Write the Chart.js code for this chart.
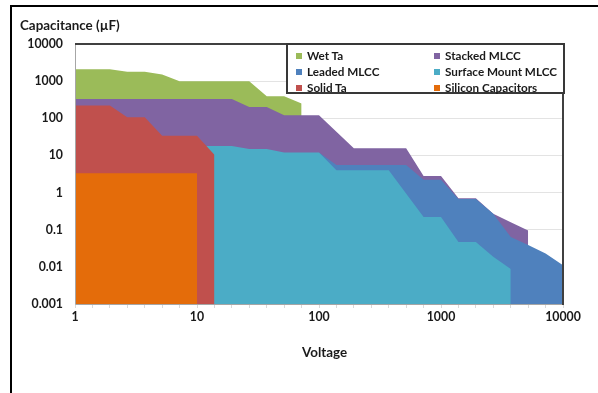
<!DOCTYPE html>
<html>
<head>
<meta charset="utf-8">
<script src="https://cdn.jsdelivr.net/npm/chart.js"></script>
<style>
html,body{margin:0;padding:0;background:#fff;width:598px;height:393px;overflow:hidden;font-family:Lato,"Open Sans",sans-serif;}
#wrap{position:relative;width:598px;height:393px;}
#c{position:absolute;left:0;top:0;}
#frame{position:absolute;left:10px;top:5px;width:620px;height:420px;border-top:2px solid #000;border-left:2px solid #000;pointer-events:none;}
.t{position:absolute;font-weight:700;font-size:13.4px;color:#1a1a1a;white-space:nowrap;line-height:16px;}
#legend{position:absolute;left:286px;top:43px;width:279px;height:51px;box-sizing:border-box;border:2px solid #383838;background:#fff;}
.li{position:absolute;font-weight:700;font-size:11.7px;color:#1a1a1a;white-space:nowrap;line-height:12px;}
.li i{display:inline-block;width:6px;height:6px;margin-right:5px;vertical-align:1px;}
</style>
</head>
<body>
<div id="wrap">
  <canvas id="c" width="598" height="393"></canvas>
  <div id="frame"></div>
  <div class="t" style="left:20px;top:17px;">Capacitance (µF)</div>
  <div class="t" style="left:302px;top:344px;">Voltage</div>
  <div id="legend"></div>
</div>
<script>
// Category positions of the voltage axis (29 steps over 1 V .. 10 kV)
const voltages = [1, 1.39, 1.93, 2.68, 3.73, 5.18, 7.2, 10, 13.9, 19.3, 26.8, 37.3, 51.8, 72,
                  100, 139, 193, 268, 373, 518, 720, 1000, 1390, 1930, 2680, 3730, 5180, 7200, 10000];
const xLabelValues = [1, 10, 100, 1000, 10000];
const xTickLabels = ['1', '10', '100', '1000', '10000'];
const yTickValues = [0.001, 0.01, 0.1, 1, 10, 100, 1000, 10000];
const yTickLabels = ['0.001', '0.01', '0.1', '1', '10', '100', '1000', '10000'];

const seriesNames = ['Wet Ta', 'Stacked MLCC', 'Leaded MLCC', 'Surface Mount MLCC', 'Solid Ta', 'Silicon Capacitors'];
const seriesColors = ['#9BBB59', '#8064A2', '#4F81BD', '#4BACC6', '#C0504D', '#E46C0A'];

// Voltage (V) and capacitance (µF) outline of each technology region
const wetTaV = [1, 1.93, 2.68, 3.73, 5.18, 7.2, 26.8, 37.3, 51.8, 72];
const wetTaC = [2100, 2100, 1800, 1800, 1500, 1000, 1000, 390, 390, 250];

const stackedV = [1, 19.3, 26.8, 37.3, 51.8, 100, 193, 518, 720, 1000, 1390, 1930, 2680, 3730, 5180];
const stackedC = [330, 330, 200, 200, 120, 120, 15.5, 15.5, 2.8, 2.8, 0.7, 0.7, 0.27, 0.16, 0.095];

const leadedV = [100, 139, 518, 720, 1000, 1390, 1930, 2680, 3730, 5180, 7200, 10000];
const leadedC = [12, 5.5, 5.5, 2.2, 2.2, 0.67, 0.67, 0.27, 0.064, 0.039, 0.023, 0.011];

const smdV = [10, 19.3, 26.8, 37.3, 51.8, 100, 139, 373, 720, 1000, 1390, 1930, 2680, 3730];
const smdC = [18, 18, 15, 15, 12, 12, 4, 4, 0.22, 0.22, 0.047, 0.047, 0.0187, 0.0087];

const solidTaV = [1, 1.93, 2.68, 3.73, 5.18, 10, 13.9];
const solidTaC = [220, 220, 106, 106, 34, 34, 10.5];

const siliconV = [1, 10];
const siliconC = [3.3, 3.3];

const seriesX = [wetTaV, stackedV, leadedV, smdV, solidTaV, siliconV];
const seriesY = [wetTaC, stackedC, leadedC, smdC, solidTaC, siliconC];

const datasets = seriesNames.map((name, i) => ({
  label: name,
  data: seriesX[i].map((v, j) => ({x: v, y: seriesY[i][j]})),
  backgroundColor: seriesColors[i],
  borderColor: 'rgba(0,0,0,0)',
  borderWidth: 0,
  pointRadius: 0,
  tension: 0,
  fill: 'start',
  order: seriesNames.length - 1 - i
}));

const plotFrame = {
  id: 'plotFrame',
  afterDatasetsDraw(chart) {
    const a = chart.chartArea, ctx = chart.ctx;
    ctx.save();
    ctx.lineWidth = 1;
    ctx.strokeStyle = '#a6a6a6';
    ctx.beginPath();
    ctx.moveTo(a.left + 0.5, a.top);
    ctx.lineTo(a.left + 0.5, a.bottom + 0.5);
    ctx.lineTo(a.right, a.bottom + 0.5);
    ctx.stroke();
    ctx.lineWidth = 2;
    ctx.strokeStyle = '#404040';
    ctx.beginPath();
    ctx.moveTo(a.left, a.top);
    ctx.lineTo(a.right, a.top);
    ctx.lineTo(a.right, a.bottom + 1);
    ctx.stroke();
    ctx.restore();
  }
};

const tickFont = {family: 'Lato', weight: 'bold', size: 12.3};

new Chart(document.getElementById('c'), {
  type: 'line',
  data: {datasets},
  plugins: [plotFrame],
  options: {
    responsive: false,
    animation: false,
    events: [],
    layout: {padding: {left: 0, right: 35, top: 44, bottom: 0}},
    plugins: {legend: {display: false}, tooltip: {enabled: false}, title: {display: false}},
    scales: {
      x: {
        type: 'logarithmic',
        min: 1, max: 10000,
        afterBuildTicks: s => { s.ticks = voltages.map(v => ({value: v})); },
        afterFit: s => { s.height = 89; },
        ticks: {
          autoSkip: false, maxRotation: 0, padding: 2,
          color: '#1a1a1a',
          font: tickFont,
          callback: (v) => { const k = xLabelValues.indexOf(v); return k >= 0 ? xTickLabels[k] : ''; }
        },
        grid: {drawOnChartArea: false, drawTicks: true, tickLength: 4, color: '#d9d9d9'},
        border: {display: false}
      },
      y: {
        type: 'logarithmic',
        min: 0.001, max: 10000,
        afterBuildTicks: s => { s.ticks = yTickValues.map(v => ({value: v})); },
        afterFit: s => { s.width = 75; },
        ticks: {
          padding: 12,
          color: '#1a1a1a',
          font: tickFont,
          callback: (v, idx) => yTickLabels[idx]
        },
        grid: {drawTicks: false, color: '#e3e3e3'},
        border: {display: false}
      }
    }
  }
});

// Legend (two columns, row-wise order)
const lg = document.getElementById('legend');
const colX = [8, 146], rowY = [4, 20, 36];
seriesNames.forEach((name, i) => {
  const d = document.createElement('div');
  d.className = 'li';
  d.style.left = colX[i % 2] + 'px';
  d.style.top = rowY[Math.floor(i / 2)] + 'px';
  d.innerHTML = '<i style="background:' + seriesColors[i] + '"></i>' + name;
  lg.appendChild(d);
});
</script>
</body>
</html>
